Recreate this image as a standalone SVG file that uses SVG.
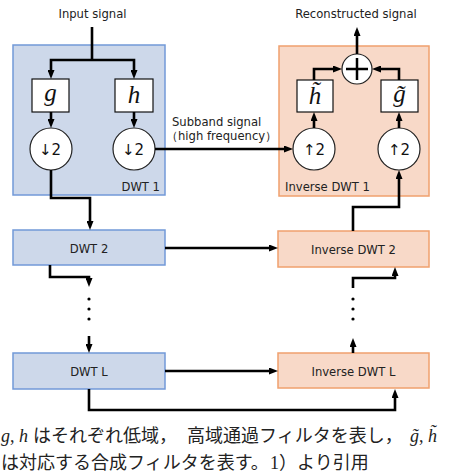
<svg xmlns="http://www.w3.org/2000/svg" width="453" height="475" viewBox="0 0 453 475">
<style>
.dwt{fill:#cdd8ea;stroke:#7299d8;stroke-width:1.5}
.idwt{fill:#f8d9c8;stroke:#f0a06e;stroke-width:1.5}
.flt{fill:#fff;stroke:#111;stroke-width:1.2}
.op{fill:#fff;stroke:#222;stroke-width:1.2}
.lbl{font-family:"DejaVu Sans",sans-serif;font-size:11.6px;fill:#222}
.mid{text-anchor:middle}
.math{font-family:"Liberation Serif",serif;font-style:italic;font-size:25px;fill:#111;text-anchor:middle}
.opt{font-family:"DejaVu Sans",sans-serif;font-size:15px;fill:#111;text-anchor:middle}
.conn{fill:none;stroke:#000;stroke-width:2.6}
.arr{marker-end:url(#ah)}
.dot{fill:#000}
.cap{font-family:"Liberation Serif","Noto Sans CJK JP",serif;font-size:18px;fill:#222}
</style>
<defs>
<marker id="ah" markerUnits="userSpaceOnUse" markerWidth="9" markerHeight="7" viewBox="0 0 9 7" refX="3" refY="3.5" orient="auto"><path d="M0,0 L9,3.5 L0,7 z" fill="#000"/></marker>
</defs>

<g id="dwt1"><rect class="dwt" x="13" y="45" width="152" height="150"/><text class="lbl" x="160" y="191" text-anchor="end">DWT 1</text></g>
<g id="idwt1"><rect class="idwt" x="279" y="46" width="150" height="150"/><text class="lbl" x="285" y="191">Inverse DWT 1</text></g>

<g id="input"><text class="lbl mid" x="92.5" y="18">Input signal</text></g>
<g id="output"><text class="lbl mid" x="356" y="18">Reconstructed signal</text></g>

<g id="g"><rect class="flt" x="32" y="79" width="37" height="33"/><text class="math" x="50.5" y="101">g</text></g>
<g id="h"><rect class="flt" x="115" y="79" width="38" height="33"/><text class="math" x="134" y="103">h</text></g>
<g id="down-g"><circle class="op" cx="51" cy="149" r="21"/><text class="opt" x="50" y="155">↓2</text></g>
<g id="down-h"><circle class="op" cx="134" cy="149" r="21"/><text class="opt" x="133" y="155">↓2</text></g>

<g id="ht"><rect class="flt" x="297" y="80" width="36" height="32"/><text class="math" x="315" y="104">h̃</text></g>
<g id="gt"><rect class="flt" x="381" y="80" width="37" height="32"/><text class="math" x="399.5" y="102">g̃</text></g>
<g id="up-h"><circle class="op" cx="314" cy="149" r="21"/><text class="opt" x="314" y="155">↑2</text></g>
<g id="up-g"><circle class="op" cx="399" cy="149" r="21"/><text class="opt" x="399" y="155">↑2</text></g>
<g id="sum"><circle class="op" cx="357" cy="69" r="15"/><path d="M346 69 H368 M357 58 V80" stroke="#000" stroke-width="2.5" fill="none"/></g>

<g id="subband"><text class="lbl" x="172" y="126">Subband signal</text><text class="lbl" x="166" y="140">（high frequency）</text></g>

<g id="dwt2"><rect class="dwt" x="13" y="230" width="152" height="35"/><text class="lbl mid" x="89" y="252.5">DWT 2</text></g>
<g id="idwt2"><rect class="idwt" x="278" y="231" width="151" height="36"/><text class="lbl mid" x="353.5" y="253.5">Inverse DWT 2</text></g>
<g id="dwtL"><rect class="dwt" x="13" y="353" width="152" height="36"/><text class="lbl mid" x="89" y="375.5">DWT L</text></g>
<g id="idwtL"><rect class="idwt" x="278" y="353" width="151" height="35"/><text class="lbl mid" x="353.5" y="375.5">Inverse DWT L</text></g>

<g id="connectors">
<path class="conn" d="M92 27 V60"/>
<path class="conn arr" d="M92 60 H51 V73"/>
<path class="conn arr" d="M92 60 H134 V73"/>
<path class="conn arr" d="M51 112 V122"/>
<path class="conn arr" d="M134 112 V122"/>
<path class="conn arr" d="M51 170 V198 H90 V224"/>
<path class="conn arr" d="M155 149 H287"/>
<path class="conn arr" d="M165 248 H272"/>
<path class="conn arr" d="M50 265 V277 H89 V281"/>
<path class="conn arr" d="M89 336 V347"/>
<path class="conn arr" d="M165 371 H272"/>
<path class="conn arr" d="M89 389 V410 H395 V395"/>
<path class="conn arr" d="M353 353 V344"/>
<path class="conn arr" d="M353 288 V278 H395 V273"/>
<path class="conn arr" d="M353 231 V207 H399 V176"/>
<path class="conn arr" d="M314 128 V118"/>
<path class="conn arr" d="M399 128 V118"/>
<path class="conn arr" d="M314 80 V69 H336"/>
<path class="conn arr" d="M399 80 V69 H378"/>
<path class="conn arr" d="M357 54 V33"/>
<circle class="dot" cx="89" cy="299" r="1.6"/><circle class="dot" cx="89" cy="309" r="1.6"/><circle class="dot" cx="89" cy="319" r="1.6"/>
<circle class="dot" cx="353" cy="299" r="1.6"/><circle class="dot" cx="353" cy="309" r="1.6"/><circle class="dot" cx="353" cy="319" r="1.6"/>
</g>

<g id="caption">
<text class="cap" x="1" y="442"><tspan font-style="italic">g</tspan>, <tspan font-style="italic">h</tspan></text>
<text class="cap" x="33" y="442">はそれぞれ低域，</text>
<text class="cap" x="187" y="442">高域通過フィルタを表し，</text>
<text class="cap" x="410" y="442"><tspan font-style="italic">g̃</tspan>, <tspan font-style="italic">h̃</tspan></text>
<text class="cap" x="1" y="469">は対応する合成フィルタを表す。</text>
<text class="cap" x="270" y="469">1）より引用</text>
</g>
</svg>
